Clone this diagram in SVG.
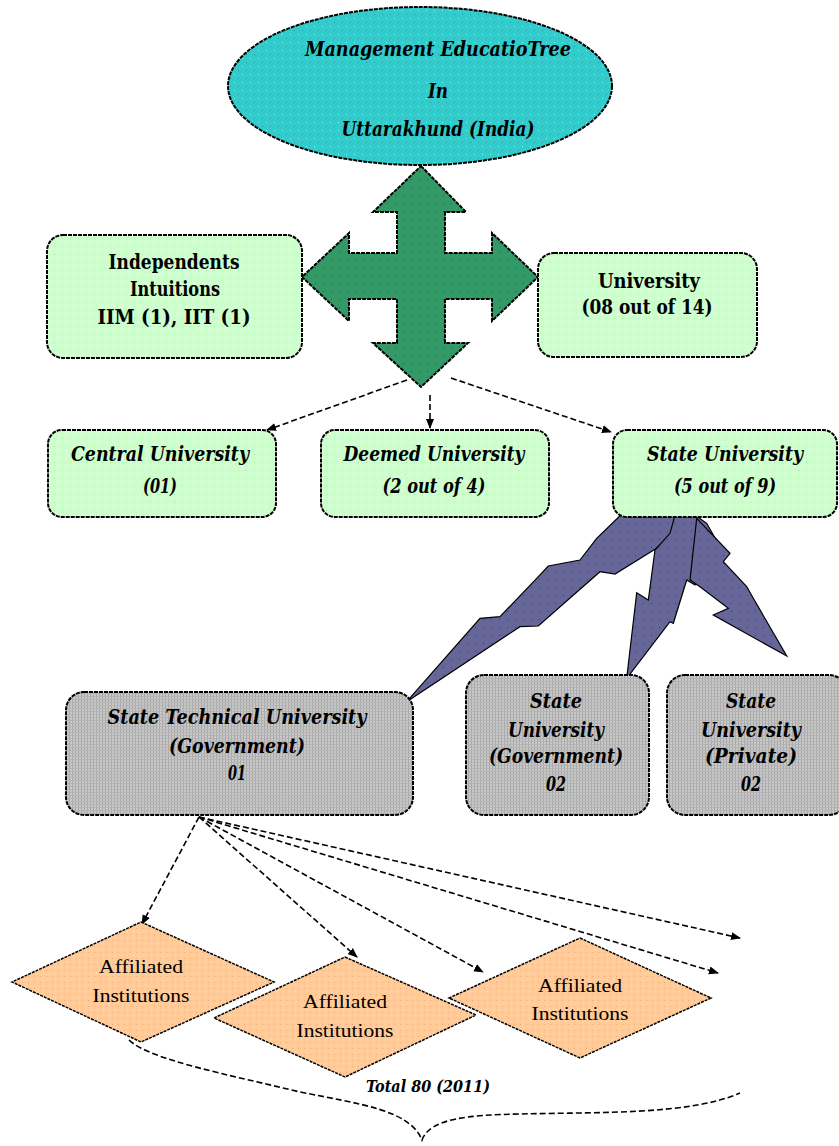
<svg xmlns="http://www.w3.org/2000/svg" width="839" height="1146" viewBox="0 0 839 1146">
<defs>
<pattern id="pGreen" width="8" height="8" patternUnits="userSpaceOnUse"><rect width="8" height="8" fill="#ccffcc"/><rect x="2" y="2" width="1" height="1" fill="#ffffff"/><rect x="6" y="6" width="1" height="1" fill="#a8e8a8"/></pattern>
<pattern id="pCyan" width="8" height="8" patternUnits="userSpaceOnUse"><rect width="8" height="8" fill="#33cccc"/><rect x="2" y="2" width="1" height="1" fill="#66ffff"/><rect x="6" y="6" width="1" height="1" fill="#229999"/></pattern>
<pattern id="pCross" width="8" height="8" patternUnits="userSpaceOnUse"><rect width="8" height="8" fill="#339966"/><rect x="3" y="3" width="1" height="1" fill="#1a6640"/></pattern>
<pattern id="pGray" width="3" height="3" patternUnits="userSpaceOnUse"><rect width="3" height="3" fill="#c8c8c8"/><rect x="0" y="0" width="1" height="3" fill="#a8a8a8"/><rect x="0" y="0" width="3" height="1" fill="#b4b4b4"/></pattern>
<pattern id="pBolt" width="8" height="8" patternUnits="userSpaceOnUse"><rect width="8" height="8" fill="#666699"/><rect x="3" y="3" width="1" height="1" fill="#3c3c66"/></pattern>
<pattern id="pOrange" width="6" height="6" patternUnits="userSpaceOnUse"><rect width="6" height="6" fill="#ffcc99"/><rect x="1" y="1" width="1" height="1" fill="#ffe680"/><rect x="4" y="4" width="1" height="1" fill="#f0a878"/></pattern>
<marker id="ah" markerWidth="10" markerHeight="10" refX="9" refY="5" orient="auto" markerUnits="userSpaceOnUse"><path d="M0,1 L10,5 L0,9 z" fill="#000"/></marker>
<style>
.box{stroke:#000;stroke-width:2;stroke-dasharray:4 1}
.gbox{fill:url(#pGreen)}
.graybox{fill:url(#pGray)}
.t{font-family:"Liberation Serif","Times New Roman",serif;fill:#000;text-anchor:middle}
.bi{font-family:"DejaVu Serif","Liberation Serif",serif;font-weight:bold;font-style:italic}
.b{font-family:"DejaVu Serif","Liberation Serif",serif;font-weight:bold}
.con{fill:none;stroke:#000;stroke-width:1.6;stroke-dasharray:6 3}
.bolt{fill:url(#pBolt);stroke:#000;stroke-width:1.2}
.dia{fill:url(#pOrange);stroke:#000;stroke-width:1.5;stroke-dasharray:3 1}
</style>
</defs>
<rect width="839" height="1146" fill="#fff"/>

<g id="connectors">
<path class="con" d="M407,380 L267,430" marker-end="url(#ah)"/>
<path class="con" d="M430,395 L430,428" marker-end="url(#ah)"/>
<path class="con" d="M451,378 L611,432" marker-end="url(#ah)"/>
<path class="con" d="M199,817 L142,924" marker-end="url(#ah)"/>
<path class="con" d="M199,817 L357,957" marker-end="url(#ah)"/>
<path class="con" d="M199,817 L483,972" marker-end="url(#ah)"/>
<path class="con" d="M199,817 L718,973" marker-end="url(#ah)"/>
<path class="con" d="M199,817 L740,938" marker-end="url(#ah)"/>
<path class="con" d="M129,1040 C150,1060 230,1075 300,1092 C360,1104 410,1110 422,1140 C430,1118 470,1115 520,1114 C600,1112 690,1115 740,1093"/>
</g>

<g id="bolts">
<polygon class="bolt" points="626.7,509.3 596.7,538.3 580,560 548.3,566 536.7,578.3 500,616.7 480,618.3 406.7,701.7 520,626.7 538.3,626 600,571.7 615,574 655,549.3 696.7,518.3"/>
<polygon class="bolt" points="655,550 648.3,600 636.7,592.7 626.7,678.3 670,621.7 673.3,623.3 686.7,580 695,585 720,546.7 706.7,523.3 678.3,503.3 670,533.3"/>
<polygon class="bolt" points="696.7,518.3 730,553.3 723.3,561.7 746.7,586.7 753.3,598.3 786.7,656 713.3,615 728.3,608.3 700,586.7 690,580"/>
</g>

<g id="root">
<ellipse cx="420" cy="86" rx="192" ry="79" fill="url(#pCyan)" class="box"/>
<text class="t bi" x="438" y="56" font-size="20" textLength="266" lengthAdjust="spacingAndGlyphs">Management EducatioTree</text>
<text class="t bi" x="438" y="98" font-size="20" textLength="20" lengthAdjust="spacingAndGlyphs">In</text>
<text class="t bi" x="438" y="136" font-size="20" textLength="193" lengthAdjust="spacingAndGlyphs">Uttarakhund (India)</text>
</g>

<g id="cross">
<polygon points="421,166 466,212 445,212 445,253 492,253 492,233 538,277 492,321 492,299 445,299 445,343 468,343 421,387 373,343 397,343 397,299 349,299 349,321 302,277 349,233 349,253 397,253 397,212 373,212" fill="url(#pCross)" stroke="#000" stroke-width="2" stroke-dasharray="4 1"/>
</g>

<g id="independents">
<rect class="box gbox" x="47" y="235" width="255" height="123" rx="16"/>
<text class="t b" x="174" y="269" font-size="20" textLength="131" lengthAdjust="spacingAndGlyphs">Independents</text>
<text class="t b" x="175" y="296" font-size="20" textLength="90" lengthAdjust="spacingAndGlyphs">Intuitions</text>
<text class="t b" x="174" y="324" font-size="20" textLength="153" lengthAdjust="spacingAndGlyphs">IIM (1), IIT (1)</text>
</g>

<g id="university">
<rect class="box gbox" x="538" y="253" width="219" height="104" rx="16"/>
<text class="t b" x="649" y="288" font-size="20" textLength="102" lengthAdjust="spacingAndGlyphs">University</text>
<text class="t b" x="647" y="314" font-size="20" textLength="131" lengthAdjust="spacingAndGlyphs">(08 out of 14)</text>
</g>

<g id="central">
<rect class="box gbox" x="48" y="430" width="228" height="87" rx="14"/>
<text class="t bi" x="160" y="461" font-size="20" textLength="178" lengthAdjust="spacingAndGlyphs">Central University</text>
<text class="t bi" x="160" y="493" font-size="20" textLength="34" lengthAdjust="spacingAndGlyphs">(01)</text>
</g>

<g id="deemed">
<rect class="box gbox" x="321" y="430" width="228" height="87" rx="14"/>
<text class="t bi" x="434" y="461" font-size="20" textLength="181" lengthAdjust="spacingAndGlyphs">Deemed University</text>
<text class="t bi" x="434" y="493" font-size="20" textLength="103" lengthAdjust="spacingAndGlyphs">(2 out of 4)</text>
</g>

<g id="state">
<rect class="box gbox" x="613" y="430" width="224" height="87" rx="14"/>
<text class="t bi" x="725" y="461" font-size="20" textLength="156" lengthAdjust="spacingAndGlyphs">State University</text>
<text class="t bi" x="725" y="493" font-size="20" textLength="102" lengthAdjust="spacingAndGlyphs">(5 out of 9)</text>
</g>

<g id="stu">
<rect class="box graybox" x="66" y="692" width="347" height="123" rx="18"/>
<text class="t bi" x="237" y="724" font-size="20" textLength="259" lengthAdjust="spacingAndGlyphs">State Technical University</text>
<text class="t bi" x="237" y="753" font-size="20" textLength="136" lengthAdjust="spacingAndGlyphs">(Government)</text>
<text class="t bi" x="237" y="780" font-size="20" textLength="18" lengthAdjust="spacingAndGlyphs">01</text>
</g>

<g id="sug">
<rect class="box graybox" x="466" y="675" width="183" height="140" rx="18"/>
<text class="t bi" x="556" y="708" font-size="20" textLength="52" lengthAdjust="spacingAndGlyphs">State</text>
<text class="t bi" x="556" y="737" font-size="20" textLength="96" lengthAdjust="spacingAndGlyphs">University</text>
<text class="t bi" x="556" y="763" font-size="20" textLength="134" lengthAdjust="spacingAndGlyphs">(Government)</text>
<text class="t bi" x="556" y="791" font-size="20" textLength="20" lengthAdjust="spacingAndGlyphs">02</text>
</g>

<g id="sup">
<rect class="box graybox" x="667" y="675" width="180" height="140" rx="18"/>
<text class="t bi" x="751" y="708" font-size="20" textLength="50" lengthAdjust="spacingAndGlyphs">State</text>
<text class="t bi" x="751" y="737" font-size="20" textLength="100" lengthAdjust="spacingAndGlyphs">University</text>
<text class="t bi" x="751" y="763" font-size="20" textLength="92" lengthAdjust="spacingAndGlyphs">(Private)</text>
<text class="t bi" x="751" y="791" font-size="20" textLength="20" lengthAdjust="spacingAndGlyphs">02</text>
</g>

<g id="aff1">
<polygon class="dia" points="141,922 274,982 141,1042 12,982"/>
<text class="t" x="141" y="973" font-size="19" textLength="84" lengthAdjust="spacingAndGlyphs">Affiliated</text>
<text class="t" x="141" y="1002" font-size="19" textLength="97" lengthAdjust="spacingAndGlyphs">Institutions</text>
</g>

<g id="aff2">
<polygon class="dia" points="345,957 476,1015 345,1077 214,1018"/>
<text class="t" x="345" y="1008" font-size="19" textLength="84" lengthAdjust="spacingAndGlyphs">Affiliated</text>
<text class="t" x="345" y="1037" font-size="19" textLength="97" lengthAdjust="spacingAndGlyphs">Institutions</text>
</g>

<g id="aff3">
<polygon class="dia" points="580,938 711,998 580,1058 449,998"/>
<text class="t" x="580" y="992" font-size="19" textLength="84" lengthAdjust="spacingAndGlyphs">Affiliated</text>
<text class="t" x="580" y="1020" font-size="19" textLength="97" lengthAdjust="spacingAndGlyphs">Institutions</text>
</g>

<g id="total">
<text class="t bi" x="428" y="1092" font-size="16" textLength="124" lengthAdjust="spacingAndGlyphs">Total 80 (2011)</text>
</g>
</svg>
